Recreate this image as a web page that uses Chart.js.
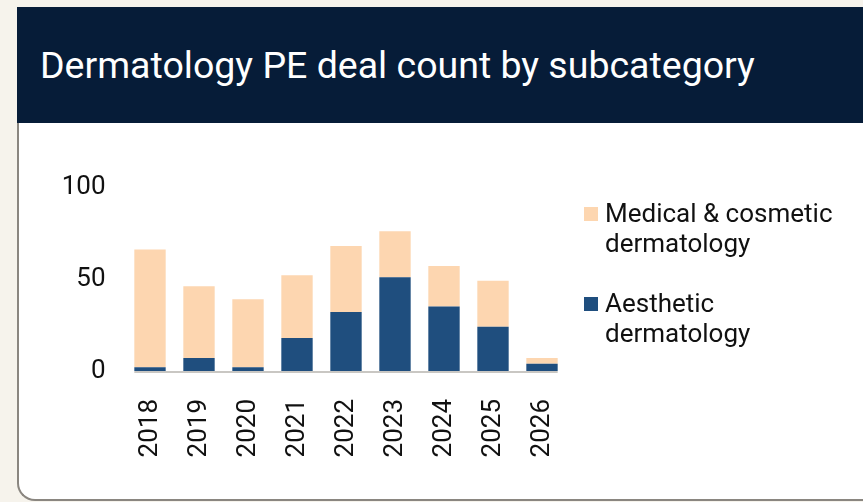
<!DOCTYPE html>
<html>
<head>
<meta charset="utf-8">
<script src="https://cdn.jsdelivr.net/npm/chart.js@4"></script>
<style>
  html, body { margin: 0; padding: 0; }
  body { width: 863px; height: 502px; background: #f6f3ec; position: relative; overflow: hidden; font-family: Roboto, sans-serif; }
  #card { position: absolute; left: 17px; top: 7px; width: 880px; height: 494px; background: #fff;
          border-left: 2px solid #8a8680; border-bottom: 2px solid #8a8680; border-bottom-left-radius: 18px; box-sizing: border-box; }
  #header { position: absolute; left: 17px; top: 7px; width: 860px; height: 116px; background: #061c38; }
  #header h1 { position: absolute; left: 23px; top: 40px; margin: 0; font: 400 37.5px/37.5px Roboto, sans-serif; color: #fff; white-space: nowrap; }
  #chart { position: absolute; left: 0; top: 0; }
  #legend { position: absolute; left: 584px; top: 198px; width: 260px; }
  .item { display: flex; align-items: flex-start; margin-bottom: 30px; }
  .box { width: 14px; height: 14px; margin-top: 9px; flex: none; }
  .txt { margin-left: 7px; font: 400 26px/30px Roboto, sans-serif; color: #111; width: 236px; }
</style>
</head>
<body>
<div id="card"></div>
<div id="header"><h1>Dermatology PE deal count by subcategory</h1></div>
<canvas id="chart" width="863" height="502"></canvas>
<div id="legend"></div>
<script>
// deal counts per year
const years = ['2018', '2019', '2020', '2021', '2022', '2023', '2024', '2025', '2026'];
const aesthetic = [2, 7, 2, 18, 32, 51, 35, 24, 4];
const medical = [64, 39, 37, 34, 36, 25, 22, 25, 3];
const yTicks = [0, 50, 100];

const seriesNames = ['Aesthetic dermatology', 'Medical & cosmetic dermatology'];
const seriesColors = ['#1f4e7e', '#fdd6b0'];

// short grey base line under the bars only
const baseLine = {
    id: 'baseLine',
    afterDatasetsDraw(chart) {
        const meta = chart.getDatasetMeta(0);
        const first = meta.data[0];
        const last = meta.data[meta.data.length - 1];
        const y = chart.scales.y.getPixelForValue(0);
        const ctx = chart.ctx;
        ctx.save();
        ctx.strokeStyle = '#c9c7c3';
        ctx.lineWidth = 2;
        ctx.beginPath();
        ctx.moveTo(first.x - first.width / 2, y + 1);
        ctx.lineTo(last.x + last.width / 2, y + 1);
        ctx.stroke();
        ctx.restore();
    }
};

const tickFont = { family: 'Roboto', size: 26 };

const data = {
    labels: years,
    datasets: [
        { label: seriesNames[0], data: aesthetic, backgroundColor: seriesColors[0] },
        { label: seriesNames[1], data: medical, backgroundColor: seriesColors[1] }
    ]
};

const options = {
    responsive: false,
    devicePixelRatio: 1,
    animation: false,
    layout: { padding: { left: 20, top: 187, right: 296.5, bottom: 0 } },
    datasets: { bar: { categoryPercentage: 1, barPercentage: 0.64 } },
    plugins: { legend: { display: false }, tooltip: { enabled: false } },
    scales: {
        x: {
            stacked: true,
            grid: { display: false, drawTicks: false },
            border: { display: false },
            ticks: { font: tickFont, color: '#111', minRotation: 90, maxRotation: 90, padding: 28 },
            afterFit(scale) { scale.height = 131; }
        },
        y: {
            stacked: true,
            min: 0,
            max: 100,
            grid: { display: false, drawTicks: false },
            border: { display: false },
            afterBuildTicks(scale) { scale.ticks = yTicks.map(v => ({ value: v })); },
            ticks: { font: tickFont, color: '#111', padding: 20 },
            afterFit(scale) { scale.width = 105.5; }
        }
    }
};

const ctx = document.getElementById('chart').getContext('2d');
const chart = new Chart(ctx, { type: 'bar', data: data, options: options, plugins: [baseLine] });

// legend, top of the stack first
const legendEl = document.getElementById('legend');
chart.data.datasets.slice().reverse().forEach(ds => {
    const item = document.createElement('div');
    item.className = 'item';
    const box = document.createElement('div');
    box.className = 'box';
    box.style.background = ds.backgroundColor;
    const txt = document.createElement('div');
    txt.className = 'txt';
    txt.textContent = ds.label;
    item.appendChild(box);
    item.appendChild(txt);
    legendEl.appendChild(item);
});
</script>
</body>
</html>
